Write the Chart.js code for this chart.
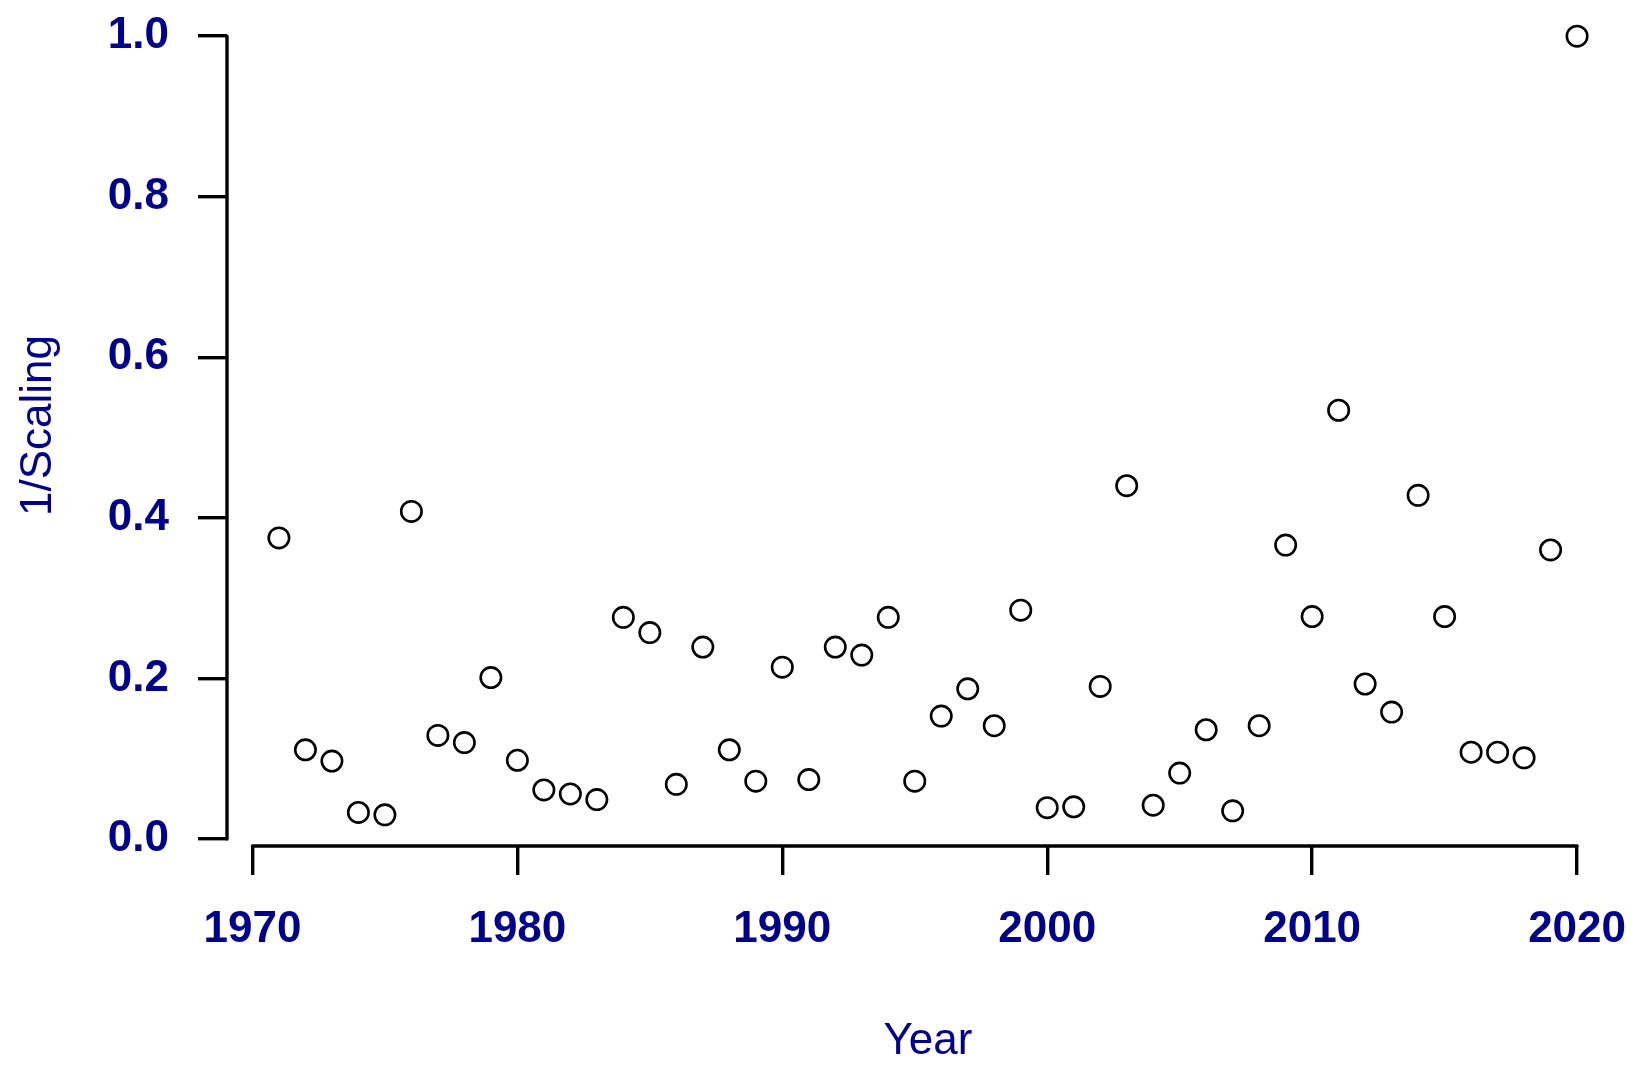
<!DOCTYPE html>
<html lang="en">
<head>
<meta charset="UTF-8">
<title>1/Scaling by year</title>
<script src="https://cdn.jsdelivr.net/npm/chart.js"></script>
<style>
  body { margin: 0; background: #fff; }
  #wrap { width: 1634px; height: 1069px; }
</style>
</head>
<body>
<div id="wrap"><canvas id="grafico" width="1634" height="1069"></canvas></div>
<script>
// values
const anos = [1971, 1972, 1973, 1974, 1975, 1976, 1977, 1978, 1979, 1980,
              1981, 1982, 1983, 1984, 1985, 1986, 1987, 1988, 1989, 1990,
              1991, 1992, 1993, 1994, 1995, 1996, 1997, 1998, 1999, 2000,
              2001, 2002, 2003, 2004, 2005, 2006, 2007, 2008, 2009, 2010,
              2011, 2012, 2013, 2014, 2015, 2016, 2017, 2018, 2019, 2020];
const escala = [0.375, 0.111, 0.097, 0.033, 0.030, 0.408, 0.129, 0.120, 0.201, 0.098,
                0.061, 0.056, 0.049, 0.276, 0.257, 0.068, 0.239, 0.111, 0.072, 0.214,
                0.074, 0.239, 0.229, 0.276, 0.072, 0.153, 0.187, 0.141, 0.285, 0.039,
                0.040, 0.190, 0.440, 0.042, 0.082, 0.136, 0.035, 0.141, 0.366, 0.277,
                0.534, 0.193, 0.158, 0.428, 0.277, 0.108, 0.108, 0.101, 0.360, 1.000];
const ticksX = [1970, 1980, 1990, 2000, 2010, 2020];
const ticksY = [0, 0.2, 0.4, 0.6, 0.8, 1.0];

const azul = "#00008B";
const fonteTick = { family: "'Liberation Sans', Arial, sans-serif", size: 44, weight: "bold" };
const fonteTitulo = { family: "'Liberation Sans', Arial, sans-serif", size: 44 };

// R style: 4% extension around the data range
const xMin = Math.min(...anos), xMax = Math.max(...anos);
const yMin = Math.min(...escala), yMax = Math.max(...escala);
const dx = (xMax - xMin) * 0.04, dy = (yMax - yMin) * 0.04;

// axis line only between first and last tick, like base R
const eixosR = {
  id: "eixosR",
  afterDraw(chart) {
    const ctx = chart.ctx;
    const x = chart.scales.x, y = chart.scales.y;
    ctx.save();
    ctx.strokeStyle = "#000";
    ctx.lineWidth = 3.4;
    ctx.lineCap = "round";
    ctx.beginPath();
    ctx.moveTo(x.left, y.getPixelForValue(ticksY[0]));
    ctx.lineTo(x.left, y.getPixelForValue(ticksY[ticksY.length - 1]));
    ctx.moveTo(x.getPixelForValue(ticksX[0]), y.bottom);
    ctx.lineTo(x.getPixelForValue(ticksX[ticksX.length - 1]), y.bottom);
    ctx.stroke();
    ctx.restore();
  }
};

function semPadding(s) {
  s.paddingTop = 0;
  s.paddingBottom = 0;
  s.paddingLeft = 0;
  s.paddingRight = 0;
}

new Chart(document.getElementById("grafico"), {
  type: "scatter",
  data: {
    datasets: [{
      data: anos.map((a, i) => ({ x: a, y: escala[i] })),
      pointRadius: 10.2,
      pointBorderWidth: 2.6,
      pointBorderColor: "#000",
      pointBackgroundColor: "rgba(255,255,255,0)"
    }]
  },
  options: {
    responsive: false,
    animation: false,
    devicePixelRatio: 1,
    layout: { autoPadding: false, padding: { top: 5, right: 5, left: 0, bottom: 0 } },
    plugins: { legend: { display: false }, tooltip: { enabled: false } },
    scales: {
      x: {
        type: "linear",
        min: xMin - dx,
        max: xMax + dx,
        afterBuildTicks: s => { s.ticks = ticksX.map(v => ({ value: v })); },
        afterFit: s => { s.height = 223; semPadding(s); },
        border: { display: false },
        grid: { drawOnChartArea: false, drawTicks: true, tickLength: 29, color: "#000", lineWidth: 3.4 },
        ticks: { color: azul, font: fonteTick, padding: 28, maxRotation: 0, callback: v => String(v) },
        title: { display: true, text: "Year", color: azul, font: fonteTitulo, padding: { top: 0, bottom: 1 } }
      },
      y: {
        min: yMin - dy,
        max: yMax + dy,
        afterBuildTicks: s => { s.ticks = ticksY.map(v => ({ value: v })); },
        afterFit: s => { s.width = 227; semPadding(s); },
        border: { display: false },
        grid: { drawOnChartArea: false, drawTicks: true, tickLength: 29, color: "#000", lineWidth: 3.4 },
        ticks: { color: azul, font: fonteTick, padding: 29, callback: v => v.toFixed(1) },
        title: { display: true, text: "1/Scaling", color: azul, font: fonteTitulo, padding: { top: 12, bottom: 0 } }
      }
    }
  },
  plugins: [eixosR]
});
</script>
</body>
</html>
